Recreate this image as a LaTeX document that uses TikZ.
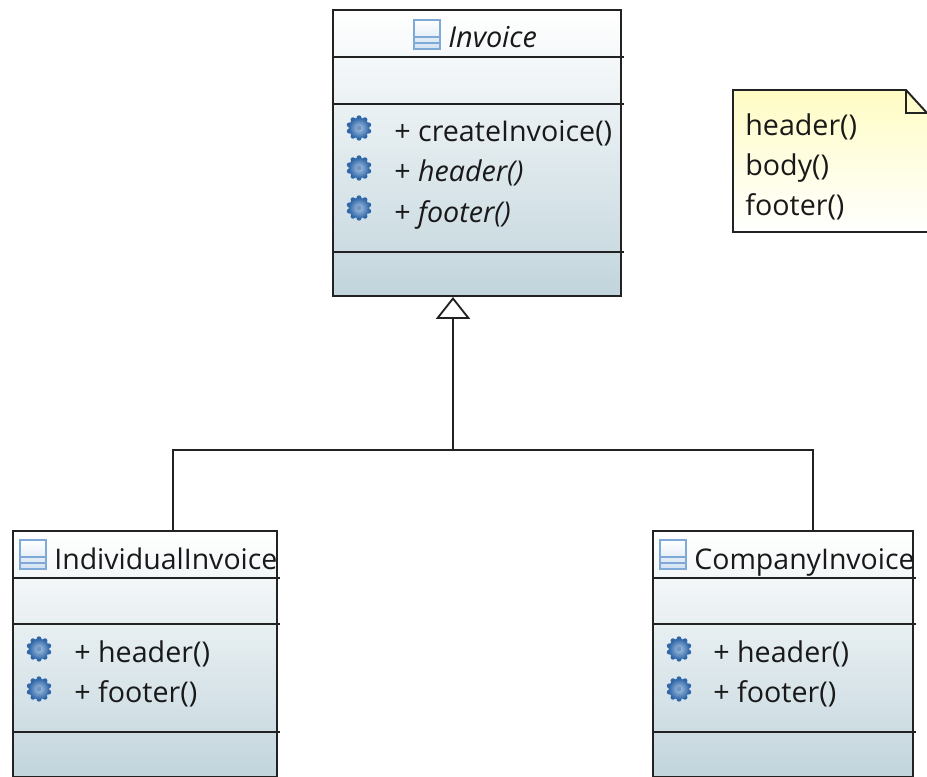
\documentclass[tikz,border=0pt]{standalone}
\usepackage{fontspec}
\setmainfont{Open Sans}
\usetikzlibrary{arrows.meta}
\definecolor{linegray}{HTML}{222222}
\definecolor{classbottom}{HTML}{C2D5DC}
\definecolor{notetop}{HTML}{FFFCC4}
\definecolor{gearblue}{HTML}{2F66A8}
\definecolor{iconblue}{HTML}{7FA9D6}
\tikzset{
	classbox/.style={draw=linegray, line width=1.1pt, top color=white, bottom color=classbottom, inner sep=0pt},
	divider/.style={draw=linegray, line width=0.9pt},
	classname/.style={anchor=base west, inner sep=0pt, font=\fontsize{16.2}{19}\selectfont, text=black!90},
	member/.style={anchor=base west, inner sep=0pt, font=\fontsize{16.3}{19}\selectfont, text=black!90},
	link/.style={draw=linegray, line width=1.05pt},
	generalization/.style={link, -{Triangle[open, length=12.5pt, width=19.5pt, fill=white]}},
	pics/gear/.style={code={
		\foreach \a in {0,36,...,324}
			\fill[gearblue, rotate=\a] (0,-10.2) circle (2.5);
		\shade[inner color=white!35!iconblue, outer color=gearblue] (0,0) circle (10.4);
		\fill[gearblue!70!white] (0,0) circle (2.4);
	}},
	pics/classicon/.style={code={
		\draw[iconblue, line width=0.9pt, top color=white, bottom color=iconblue!35] (0,0) rectangle (26,29);
		\draw[iconblue, line width=0.9pt] (0,17) -- (26,17) (0,23) -- (26,23);
	}},
}
\begin{document}
\begin{tikzpicture}[x=0.02cm, y=-0.02cm]
	\useasboundingbox (0,0) rectangle (927,777);

	% the three classes
	\node[classbox, minimum width=5.76cm, minimum height=5.72cm] (invoice) at (477,153) {};
	\node[classbox, minimum width=5.28cm, minimum height=4.92cm] (individualinvoice) at (145,654) {};
	\node[classbox, minimum width=5.20cm, minimum height=4.92cm] (companyinvoice) at (783,654) {};

	\draw[divider] (333,57) -- (624,57) (333,104) -- (624,104) (333,252) -- (624,252);
	\draw[divider] (13,578) -- (280,578) (13,624) -- (280,624) (13,732) -- (280,732);
	\draw[divider] (653,578) -- (916,578) (653,624) -- (916,624) (653,732) -- (916,732);

	% headers
	\pic at (414,20) {classicon};
	\pic at (20,540) {classicon};
	\pic at (660,540) {classicon};
	\node[classname, font=\fontsize{16.4}{19}\selectfont\itshape] (invoicename) at (448,48) {Invoice};
	\node[classname] (individualname) at (54,569) {IndividualInvoice};
	\node[classname] (companyname) at (694,569) {CompanyInvoice};

	% operations
	\pic at (359,128) {gear};
	\pic at (359,168) {gear};
	\pic at (359,208) {gear};
	\node[member] (create) at (394,142) {+ createInvoice()};
	\node[member] (header) at (394,182) {+ \textit{header()}};
	\node[member] (footer) at (394,222) {+ \textit{footer()}};

	\pic at (39,649) {gear};
	\pic at (39,689) {gear};
	\node[member] (individualheader) at (74,662) {+ header()};
	\node[member] (individualfooter) at (74,702) {+ footer()};

	\pic at (679,649) {gear};
	\pic at (679,689) {gear};
	\node[member] (companyheader) at (713,662) {+ header()};
	\node[member] (companyfooter) at (713,702) {+ footer()};

	% note
	\draw[classbox, top color=notetop, bottom color=white] (927,113) -- (906,90) -- (733,90) -- (733,232) -- (927,232);
	\draw[divider] (906,90) -- (906,113) -- (927,113);
	\node[member] (noteheader) at (745,135) {header()};
	\node[member] (notebody) at (745,175) {body()};
	\node[member] (notefooter) at (745,215) {footer()};

	% inheritance
	\coordinate (invoicetip) at (453,297);
	\coordinate (junction) at (453,450);
	\coordinate (individualtop) at (173,531);
	\coordinate (companytop) at (813,531);
	\draw[generalization] (junction) -- (invoicetip);
	\draw[link] (individualtop) |- (junction);
	\draw[link] (companytop) |- (junction);
\end{tikzpicture}
\end{document}
